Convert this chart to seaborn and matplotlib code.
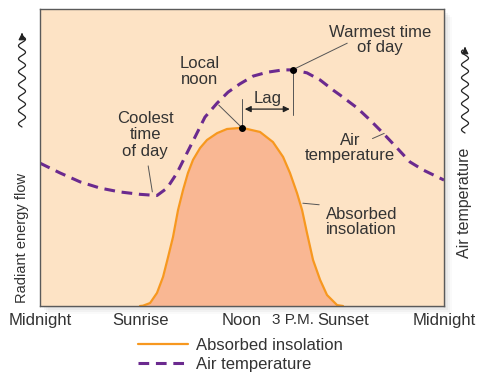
import numpy as np
import pandas as pd
import matplotlib
matplotlib.use("Agg")
import matplotlib.pyplot as plt
import seaborn as sns
from matplotlib.patches import Rectangle

# Values (hours since midnight, relative level 0-1)
ins_hours = [5.94, 6.12, 6.54, 6.95, 7.31, 7.61, 7.90, 8.20, 8.50, 8.79, 9.09, 9.51, 9.92, 10.52,
             11.11, 12.0, 13.07, 13.84, 14.44, 14.85, 15.27, 15.57, 15.86, 16.22, 16.64, 17.05,
             17.65, 18.0]
ins_level = [0.0, 0.001, 0.010, 0.044, 0.098, 0.165, 0.232, 0.323, 0.391, 0.448, 0.492, 0.532, 0.559, 0.582,
             0.596, 0.600, 0.586, 0.552, 0.502, 0.448, 0.380, 0.323, 0.246, 0.155, 0.088, 0.037,
             0.003, 0.0]

air_hours = [0.0, 1.19, 2.38, 3.57, 4.75, 5.94, 6.95, 7.55, 8.14, 8.73, 9.21, 9.80, 10.52, 11.17,
             11.88, 12.66, 13.49, 14.44, 15.03, 15.86, 16.64, 17.41, 17.83, 18.84, 19.61, 20.38,
             21.21, 21.98, 22.76, 24.0]
air_level = [0.481, 0.448, 0.418, 0.397, 0.384, 0.376, 0.372, 0.397, 0.448, 0.515, 0.569, 0.636, 0.683, 0.720,
             0.748, 0.774, 0.787, 0.795, 0.795, 0.785, 0.761, 0.727, 0.710, 0.667, 0.626, 0.582,
             0.532, 0.485, 0.458, 0.424]

tick_hours = [0, 6, 12, 15, 18, 24]
tick_labels = ["Midnight", "Sunrise", "Noon", "3 P.M.", "Sunset", "Midnight"]

noon_h, noon_v = 12.0, 0.600
warm_h, warm_v = 15.0, 0.795

ins = pd.DataFrame({"hour": ins_hours, "level": ins_level})
air = pd.DataFrame({"hour": air_hours, "level": air_level})

sns.set_theme(style="white")
plt.rcParams["font.family"] = ["Liberation Sans", "DejaVu Sans"]

peach = "#FDE3C5"
salmon = "#F9B793"
orange = "#F7981F"
purple = "#6B2A8F"
txt = "#333333"
fs = 12

fig = plt.figure(figsize=(4.8, 3.74), dpi=100)

# overlay in pixel space for shadow, wavy arrows, side labels
over = fig.add_axes([0, 0, 1, 1])
over.set_xlim(0, 480)
over.set_ylim(374, 0)
over.axis("off")
over.set_zorder(0)
for i, a in enumerate([0.10, 0.08, 0.06, 0.04]):
    off = 2 + 2 * i
    over.add_patch(Rectangle((40 + off, 9 + off), 404, 297, color="#808080", alpha=a, lw=0))

def wavy(x, y0, y1):
    yy = np.linspace(y0, y1, 200)
    xx = x + 3.5 * np.sin((yy - y0) / 13.0 * 2 * np.pi)
    over.plot(xx, yy, color="#222222", lw=0.9)
    over.annotate("", xy=(x, y1 - 6), xytext=(x, y1 + 2),
                  arrowprops=dict(arrowstyle="-|>", color="#222222", lw=0.9, mutation_scale=10))

wavy(22, 127, 36)
wavy(465, 133, 50)
over.text(22, 238, "Radiant energy flow", rotation=90, ha="center", va="center", fontsize=10.5, color=txt)
over.text(465, 203, "Air temperature", rotation=90, ha="center", va="center", fontsize=11.5, color=txt)

ax = fig.add_axes([40 / 480, 68 / 374, 404 / 480, 297 / 374])
ax.set_zorder(1)
ax.set_facecolor(peach)

ax.fill_between(ins["hour"], ins["level"], 0, color=salmon, lw=0)
sns.lineplot(data=ins, x="hour", y="level", ax=ax, color=orange, lw=1.6,
             label="Absorbed insolation", sort=False)
sns.lineplot(data=air, x="hour", y="level", ax=ax, color=purple, lw=2.2,
             label="Air temperature", sort=False)
ax.lines[-1].set_dashes((3.5, 2.2))

ax.set_xlim(0, 24)
ax.set_ylim(0, 1)
ax.set_xlabel("")
ax.set_ylabel("")
ax.set_yticks([])
ax.set_xticks(tick_hours)
ax.set_xticklabels(tick_labels, fontsize=fs, color=txt)
ax.get_xticklabels()[3].set_fontsize(11)
ax.tick_params(axis="x", which="major", length=0, pad=5)
ax.set_xticks([6, 18], minor=True)
ax.tick_params(axis="x", which="minor", direction="in", length=9, width=0.8, color="#555555", bottom=True)
for s in ax.spines.values():
    s.set_color("#5a5a5a")
    s.set_linewidth(1.0)

# key points
ax.plot([noon_h, warm_h], [noon_v, warm_v], "o", color="black", ms=4, zorder=5)

line_kw = dict(arrowstyle="-", color="#555555", lw=0.7)
ax.annotate("", xy=(noon_h, noon_v), xytext=(10.5, 0.683), arrowprops=line_kw)
ax.text(9.5, 0.79, "Local\nnoon", ha="center", va="center", fontsize=fs, color=txt, linespacing=1.05)

ax.annotate("", xy=(6.7, 0.375), xytext=(6.4, 0.481), arrowprops=line_kw)
ax.text(6.24, 0.576, "Coolest\ntime\nof day", ha="center", va="center", fontsize=fs, color=txt, linespacing=1.1)

ax.annotate("", xy=(warm_h, warm_v), xytext=(18.4, 0.889), arrowprops=line_kw)
ax.text(20.2, 0.896, "Warmest time\nof day", ha="center", va="center", fontsize=fs, color=txt, linespacing=1.05)

# lag bracket
ax.plot([noon_h, noon_h], [noon_v, 0.697], color="#555555", lw=0.7)
ax.plot([warm_h, warm_h], [0.643, warm_v], color="#555555", lw=0.7)
ax.annotate("", xy=(noon_h, 0.663), xytext=(warm_h, 0.663),
            arrowprops=dict(arrowstyle="<|-|>", color="#222222", lw=0.9, mutation_scale=9))
ax.text(13.55, 0.70, "Lag", ha="center", va="center", fontsize=fs, color=txt)

ax.annotate("", xy=(20.6, 0.585), xytext=(19.6, 0.56), arrowprops=line_kw)
ax.text(18.4, 0.532, "Air\ntemperature", ha="center", va="center", fontsize=fs, color=txt, linespacing=1.05)

ax.annotate("", xy=(15.45, 0.347), xytext=(16.75, 0.34), arrowprops=line_kw)
ax.text(17.0, 0.283, "Absorbed\ninsolation", ha="left", va="center", fontsize=fs, color=txt, linespacing=1.05)

leg = ax.legend(loc="upper left", bbox_to_anchor=(138 / 480, 1 - 338 / 374), bbox_transform=fig.transFigure,
                frameon=False, fontsize=fs, handlelength=3.0, handletextpad=0.5,
                labelspacing=0.22, borderpad=0, borderaxespad=0)
for t in leg.get_texts():
    t.set_color(txt)

fig.savefig("out.png", dpi=100, facecolor="white")
